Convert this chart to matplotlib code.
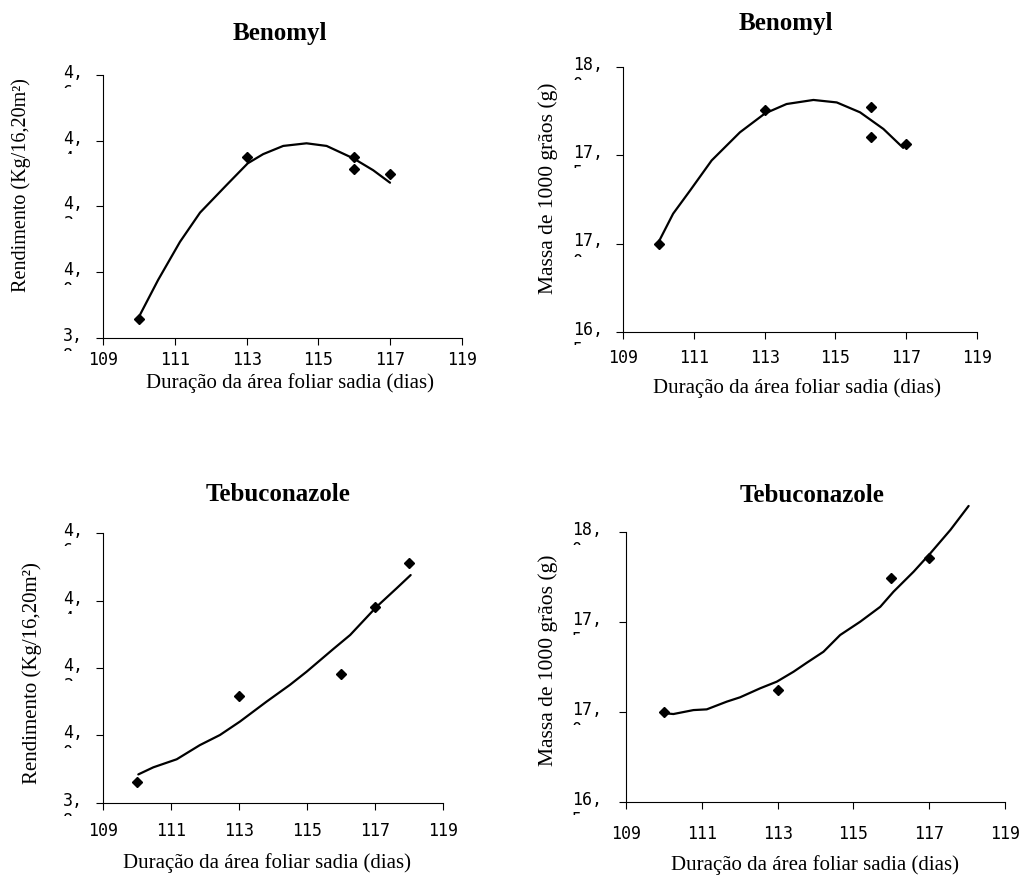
import matplotlib
matplotlib.use("Agg")
import matplotlib.pyplot as plt
from matplotlib.transforms import ScaledTranslation, Bbox

W, H, DPI = 1030, 884, 100

# ---------------- data ----------------
x_ticks = [109, 111, 113, 115, 117, 119]

# Benomyl - Rendimento
ben_rend_x = [110, 113, 116, 116, 117]
ben_rend_y = [3.856, 4.349, 4.351, 4.313, 4.300]
ben_rend_cx = [110.02, 110.53, 111.14, 111.70, 112.44, 113.03, 113.46, 114.02,
               114.67, 115.23, 115.98, 116.53, 117.00]
ben_rend_cy = [3.869, 3.976, 4.092, 4.181, 4.265, 4.331, 4.359, 4.384,
               4.392, 4.384, 4.346, 4.310, 4.272]

# Benomyl - Massa de 1000 graos
ben_mass_x = [110, 113, 116, 116, 117]
ben_mass_y = [17.00, 17.756, 17.771, 17.601, 17.563]
ben_mass_cx = [110.00, 110.41, 110.89, 111.50, 112.30, 113.01, 113.62, 114.38,
               115.04, 115.70, 116.36, 116.92]
ben_mass_cy = [17.009, 17.169, 17.300, 17.470, 17.629, 17.736, 17.789, 17.812,
               17.798, 17.742, 17.648, 17.541]

# Tebuconazole - Rendimento
teb_rend_x = [110, 113, 116, 117, 118]
teb_rend_y = [3.862, 4.117, 4.182, 4.382, 4.513]
teb_rend_cx = [110.03, 110.47, 111.16, 111.84, 112.43, 113.02, 113.80, 114.49,
               114.98, 115.76, 116.26, 117.04, 117.63, 118.04]
teb_rend_cy = [3.884, 3.905, 3.929, 3.971, 4.001, 4.041, 4.100, 4.150,
               4.189, 4.256, 4.298, 4.382, 4.437, 4.476]

# Tebuconazole - Massa de 1000 graos
teb_mass_x = [110, 113, 116, 117]
teb_mass_y = [16.997, 17.121, 17.741, 17.856]
teb_mass_cx = [110.05, 110.25, 110.78, 111.13, 111.66, 112.01, 112.54, 112.98,
               113.42, 113.77, 114.21, 114.65, 115.18, 115.71, 116.06, 116.59,
               117.03, 117.56, 118.04]
teb_mass_cy = [16.991, 16.987, 17.009, 17.013, 17.056, 17.080, 17.130, 17.167,
               17.222, 17.272, 17.333, 17.426, 17.500, 17.583, 17.667, 17.778,
               17.880, 18.010, 18.143]

rend_ticks = [3.8, 4.0, 4.2, 4.4, 4.6]
rend_lab1 = ["3,", "4,", "4,", "4,", "4,"]
rend_lab2 = ["8", "0", "2", "4", "6"]
mass_ticks = [16.5, 17.0, 17.5, 18.0]
mass_lab1 = ["16,", "17,", "17,", "18,"]
mass_lab2 = ["5", "0", "5", "0"]

titles = ["Benomyl", "Benomyl", "Tebuconazole", "Tebuconazole"]
xlabel = "Duração da área foliar sadia (dias)"
ylab_rend = "Rendimento (Kg/16,20m²)"
ylab_mass = "Massa de 1000 grãos (g)"

# ---------------- layout (pixels) ----------------
SERIF = "Liberation Serif"
MONO = "DejaVu Sans Mono"

fig = plt.figure(figsize=(W / DPI, H / DPI), dpi=DPI)
fig.patch.set_facecolor("white")


def px_axes(l, r, t, b):
    return fig.add_axes([l / W, 1 - b / H, (r - l) / W, (b - t) / H])


panels = [
    dict(box=(103.3, 461.7, 75.0, 337.7), x=ben_rend_x, y=ben_rend_y, cx=ben_rend_cx, cy=ben_rend_cy,
         yt=rend_ticks, l1=rend_lab1, l2=rend_lab2, lab_off=40, title=titles[0], tpos=(280, 40),
         xl=(290, 388), yl=ylab_rend, ylpos=(21, 185), ylfs=14.5, xpad=4.5),
    dict(box=(623.3, 976.7, 66.7, 332.0), x=ben_mass_x, y=ben_mass_y, cx=ben_mass_cx, cy=ben_mass_cy,
         yt=mass_ticks, l1=mass_lab1, l2=mass_lab2, lab_off=50, title=titles[1], tpos=(786, 30),
         xl=(797, 393), yl=ylab_mass, ylpos=(548, 188), ylfs=15.5, xpad=7.2),
    dict(box=(103.3, 443.3, 533.3, 802.7), x=teb_rend_x, y=teb_rend_y, cx=teb_rend_cx, cy=teb_rend_cy,
         yt=rend_ticks, l1=rend_lab1, l2=rend_lab2, lab_off=40, title=titles[2], tpos=(278, 501),
         xl=(267, 868), yl=ylab_rend, ylpos=(32, 673), ylfs=15, xpad=8.6),
    dict(box=(626.0, 1005.0, 531.7, 801.7), x=teb_mass_x, y=teb_mass_y, cx=teb_mass_cx, cy=teb_mass_cy,
         yt=mass_ticks, l1=mass_lab1, l2=mass_lab2, lab_off=54, title=titles[3], tpos=(812, 502),
         xl=(815, 870), yl=ylab_mass, ylpos=(548, 660), ylfs=15.5, xpad=12),
]

for p in panels:
    l, r, t, b = p["box"]
    ax = px_axes(l, r, t, b)
    ax.set_facecolor("none")
    ax.plot(p["cx"], p["cy"], color="black", lw=1.6, clip_on=False,
            solid_capstyle="round", solid_joinstyle="round")
    ax.plot(p["x"], p["y"], linestyle="none", marker="D", markersize=5.6,
            color="black", clip_on=False)
    ax.set_xlim(109, 119)
    ax.set_ylim(p["yt"][0], p["yt"][-1])
    for s in ("top", "right"):
        ax.spines[s].set_visible(False)
    for s in ("left", "bottom"):
        ax.spines[s].set_linewidth(0.8)
    ax.set_xticks(x_ticks)
    ax.set_xticklabels([str(v) for v in x_ticks], fontfamily=MONO, fontsize=12)
    ax.tick_params(axis="x", direction="out", length=5, width=0.8, pad=p["xpad"])
    ax.set_yticks(p["yt"])
    ax.set_yticklabels([])
    ax.tick_params(axis="y", direction="out", length=5, width=0.8)

    # y tick labels (first line) and clipped fragment of the second line
    off = -p["lab_off"] * 72 / DPI
    tr = ax.get_yaxis_transform() + ScaledTranslation(off / 72, 1.5 / 72, fig.dpi_scale_trans)
    tr2 = ax.get_yaxis_transform() + ScaledTranslation(off / 72, -6.5 / 72, fig.dpi_scale_trans)
    for v, a, d in zip(p["yt"], p["l1"], p["l2"]):
        ax.text(0, v, a, transform=tr, ha="left", va="center", fontfamily=MONO,
                fontsize=12, clip_on=False)
        ty = ax.transData.transform((109, v))[1]
        txt = ax.text(0, v, d, transform=tr2, ha="left", va="top", fontfamily=MONO,
                      fontsize=12)
        txt.set_clip_on(True)
        txt.set_clip_box(Bbox.from_extents(0, ty - 13, W, ty - 9))

    # titles and axis labels
    fig.text(p["tpos"][0] / W, 1 - p["tpos"][1] / H, p["title"], ha="center", va="baseline",
             fontfamily=SERIF, fontweight="bold", fontsize=18)
    fig.text(p["xl"][0] / W, 1 - p["xl"][1] / H, xlabel, ha="center", va="baseline",
             fontfamily=SERIF, fontsize=15)
    fig.text(p["ylpos"][0] / W, 1 - p["ylpos"][1] / H, p["yl"], ha="center", va="center",
             rotation=90, fontfamily=SERIF, fontsize=p["ylfs"])

fig.savefig("out.png", dpi=DPI, facecolor="white")
